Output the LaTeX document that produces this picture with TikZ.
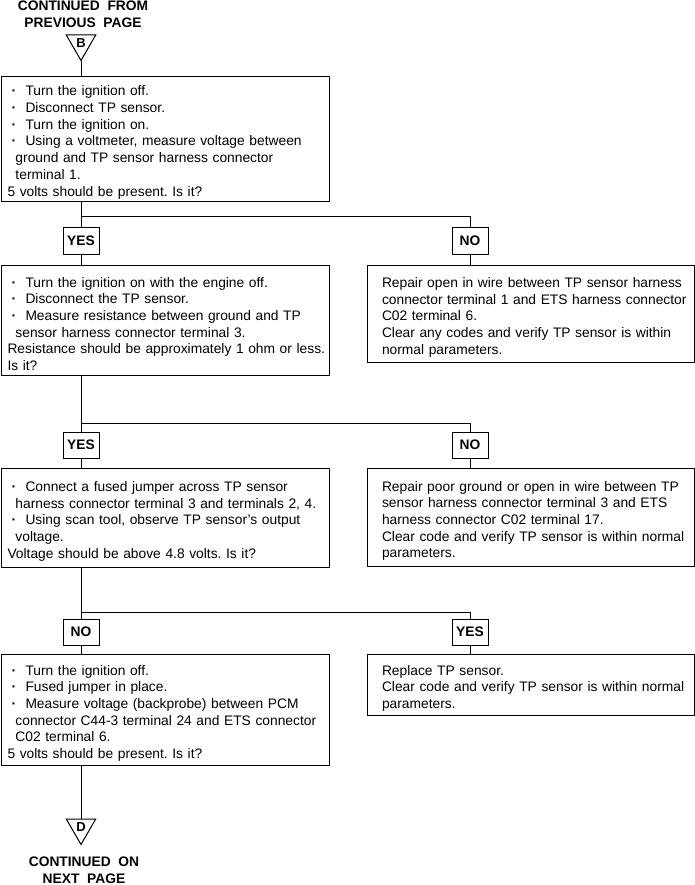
\documentclass[tikz,border=0pt]{standalone}
\usepackage{fontspec}
\setmainfont{Liberation Sans}
\usetikzlibrary{positioning,shapes.geometric}
\frenchspacing

\newlength{\txtindent}
\newcommand{\bul}{\par\leftskip=\txtindent\hangindent=8pt\hangafter=1\noindent\makebox[18pt][l]{\hspace{4pt}\textbf{·}}}
\newcommand{\pln}{\par\leftskip=\txtindent\noindent}

\tikzset{
  stepbox/.style={draw, anchor=north west, inner xsep=1pt, inner ysep=2pt,
    text width=326pt, align=left, font=\fontsize{13.8}{16.7}\selectfont,
    /utils/exec={\setlength{\txtindent}{5pt}}},
  fixbox/.style={stepbox, text width=325pt,
    /utils/exec={\setlength{\txtindent}{13.5pt}}},
  answer/.style={draw, minimum width=36pt, minimum height=26pt, inner sep=0pt,
    font=\bfseries\fontsize{13.8}{16}\selectfont},
  pagelink/.style={draw, regular polygon, regular polygon sides=3,
    shape border rotate=180, minimum size=34pt, inner sep=0pt,
    font=\bfseries\fontsize{13}{13}\selectfont},
  pagetext/.style={align=center, font=\bfseries\fontsize{13.8}{17}\selectfont}
}

\begin{document}
\begin{tikzpicture}[x=1pt, y=-1pt, line width=1pt]
    \useasboundingbox (0,0) rectangle (695,885);
    % Enlace con la pagina anterior
    \node[pagetext] (prev) at (83,14) {CONTINUED\ \ FROM\\PREVIOUS\ \ PAGE};
    \node[pagelink] (linkB) at (81,43.5) {B};

    % Primer paso
    \node[stepbox, minimum height=125pt] (step1) at (1,76) {%
        \bul Turn the ignition off.
        \bul Disconnect TP sensor.
        \bul Turn the ignition on.
        \bul Using a voltmeter, measure voltage between\newline ground and TP sensor harness connector\newline terminal 1.
        \pln 5 volts should be present. Is it?\par};
    \draw (linkB.south) -- (linkB.south |- step1.north);

    % Primera decision
    \coordinate (j1) at (81,217);
    \node[answer] (yes1) at (81,241) {YES};
    \node[answer] (no1) at (470,241) {NO};
    \draw (step1.south -| yes1) -- (yes1.north);
    \draw (j1) -| (no1.north);

    % Segundo paso
    \node[stepbox, minimum height=110pt] (step2) at (1,265) {%
        \bul Turn the ignition on with the engine off.
        \bul Disconnect the TP sensor.
        \bul Measure resistance between ground and TP\newline sensor harness connector terminal 3.
        \pln Resistance should be approximately 1 ohm or less.\newline Is it?\par};
    \node[fixbox, minimum height=97pt] (fix1) at (367,265) {%
        \pln Repair open in wire between TP sensor harness\newline connector terminal 1 and ETS harness connector\newline C02 terminal 6.
        \pln Clear any codes and verify TP sensor is within\newline normal parameters.\par};
    \draw (yes1.south) -- (yes1 |- step2.north);
    \draw (no1.south) -- (no1 |- fix1.north);

    % Segunda decision
    \coordinate (j2) at (81,423);
    \node[answer] (yes2) at (81,445) {YES};
    \node[answer] (no2) at (470,445) {NO};
    \draw (step2.south -| yes2) -- (yes2.north);
    \draw (j2) -| (no2.north);

    % Tercer paso
    \node[stepbox, minimum height=99pt] (step3) at (1,468) {%
        \bul Connect a fused jumper across TP sensor\newline harness connector terminal 3 and terminals 2, 4.
        \bul Using scan tool, observe TP sensor's output\newline voltage.
        \pln Voltage should be above 4.8 volts. Is it?\par};
    \node[fixbox, minimum height=98pt] (fix2) at (367,468) {%
        \pln Repair poor ground or open in wire between TP\newline sensor harness connector terminal 3 and ETS\newline harness connector C02 terminal 17.
        \pln Clear code and verify TP sensor is within normal\newline parameters.\par};
    \draw (yes2.south) -- (yes2 |- step3.north);
    \draw (no2.south) -- (no2 |- fix2.north);

    % Tercera decision
    \coordinate (j3) at (81,612);
    \node[answer] (no3) at (81,632) {NO};
    \node[answer] (yes3) at (470,632) {YES};
    \draw (step3.south -| no3) -- (no3.north);
    \draw (j3) -| (yes3.north);

    % Cuarto paso
    \node[stepbox, minimum height=111pt] (step4) at (1,654) {%
        \bul Turn the ignition off.
        \bul Fused jumper in place.
        \bul Measure voltage (backprobe) between PCM\newline connector C44-3 terminal 24 and ETS connector\newline C02 terminal 6.
        \pln 5 volts should be present. Is it?\par};
    \node[fixbox, minimum height=61pt] (fix3) at (367,654) {%
        \pln Replace TP sensor.
        \pln Clear code and verify TP sensor is within normal\newline parameters.\par};
    \draw (no3.south) -- (no3 |- step4.north);
    \draw (yes3.south) -- (yes3 |- fix3.north);

    % Enlace con la pagina siguiente
    \node[pagelink] (linkD) at (81,827.5) {D};
    \draw (step4.south -| linkD) -- (linkD.north);
    \node[pagetext] (next) at (84,870) {CONTINUED\ \ ON\\NEXT\ \ PAGE};
\end{tikzpicture}
\end{document}
